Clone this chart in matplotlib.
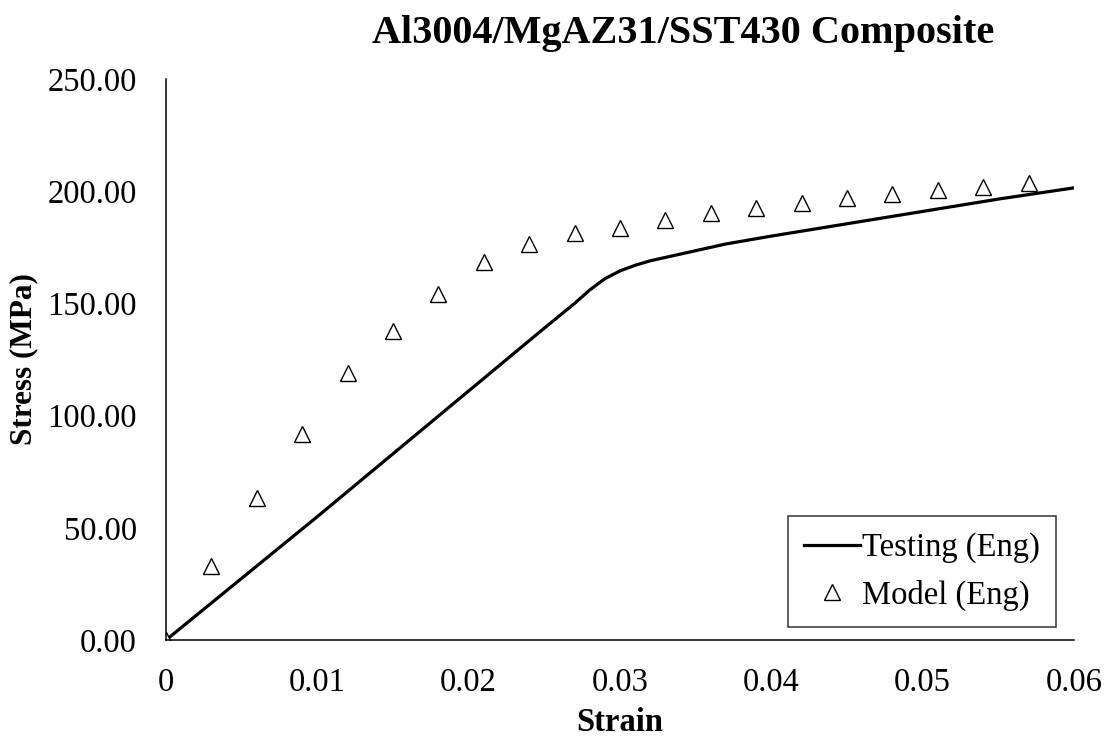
import matplotlib.pyplot as plt

# test curve (engineering)
test_strain = [0.0, 0.005, 0.010, 0.015, 0.020, 0.025, 0.027, 0.028, 0.029, 0.030,
               0.031, 0.032, 0.033, 0.035, 0.037, 0.040, 0.045, 0.050, 0.055, 0.060]
test_stress = [0.0, 27.5, 55.0, 83.0, 111.0, 139.0, 150.0, 156.0, 161.0, 164.5,
               167.0, 169.0, 170.5, 173.5, 176.5, 180.0, 185.5, 191.0, 196.5, 201.5]

# model points (engineering)
model_strain = [0.0, 0.003, 0.006, 0.009, 0.012, 0.015, 0.018, 0.021, 0.024, 0.027,
                0.030, 0.033, 0.036, 0.039, 0.042, 0.045, 0.048, 0.051, 0.054, 0.057]
model_stress = [0.0, 33.0, 63.3, 91.8, 119.0, 137.7, 154.0, 168.4, 176.5, 181.4,
                183.6, 187.2, 190.3, 192.5, 194.7, 197.0, 198.7, 200.5, 201.9, 203.6]

x_ticks = [0, 0.01, 0.02, 0.03, 0.04, 0.05, 0.06]
x_labels = ['0', '0.01', '0.02', '0.03', '0.04', '0.05', '0.06']
y_ticks = [0, 50, 100, 150, 200, 250]

plt.rcParams['font.family'] = ['Liberation Serif', 'DejaVu Serif']

fig = plt.figure(figsize=(11.09, 7.4), dpi=100)
ax = fig.add_axes([0.1497, 0.1351, 0.8187, 0.7581])

ax.plot(test_strain, test_stress, color='black', linewidth=2.3, label='Testing (Eng)')
ax.plot(model_strain, model_stress, linestyle='none', marker='^', markersize=11,
        markerfacecolor='white', markeredgecolor='black', markeredgewidth=1.0,
        label='Model (Eng)')

ax.set_xlim(0, 0.06)
ax.set_ylim(0, 250)
ax.set_xticks(x_ticks)
ax.set_xticklabels(x_labels)
ax.set_yticks(y_ticks)
ax.set_yticklabels([f'{v:.2f}' for v in y_ticks])
ax.tick_params(axis='both', length=0, labelsize=23.5)
ax.tick_params(axis='x', pad=20)
ax.tick_params(axis='y', pad=21)

for side in ['top', 'right']:
    ax.spines[side].set_visible(False)
for side in ['left', 'bottom']:
    ax.spines[side].set_linewidth(1.1)

ax.set_xlabel('Strain', fontsize=23.5, fontweight='bold')
ax.xaxis.set_label_coords(0.5, -0.119)
ax.set_ylabel('Stress (MPa)', fontsize=22.5, fontweight='bold')
ax.yaxis.set_label_coords(-0.141, 0.5)

fig.text(0.616, 0.955, 'Al3004/MgAZ31/SST430 Composite', fontsize=29,
         fontweight='bold', ha='center', va='center')

leg = ax.legend(loc='lower right', bbox_to_anchor=(0.98, 0.023), fontsize=23.5,
                frameon=True, fancybox=False, edgecolor='black',
                handlelength=1.7, handletextpad=0.05, borderpad=0.5,
                labelspacing=0.5, borderaxespad=0)
leg.get_frame().set_linewidth(1.1)

plt.savefig('out.png', dpi=100)
plt.close(fig)
